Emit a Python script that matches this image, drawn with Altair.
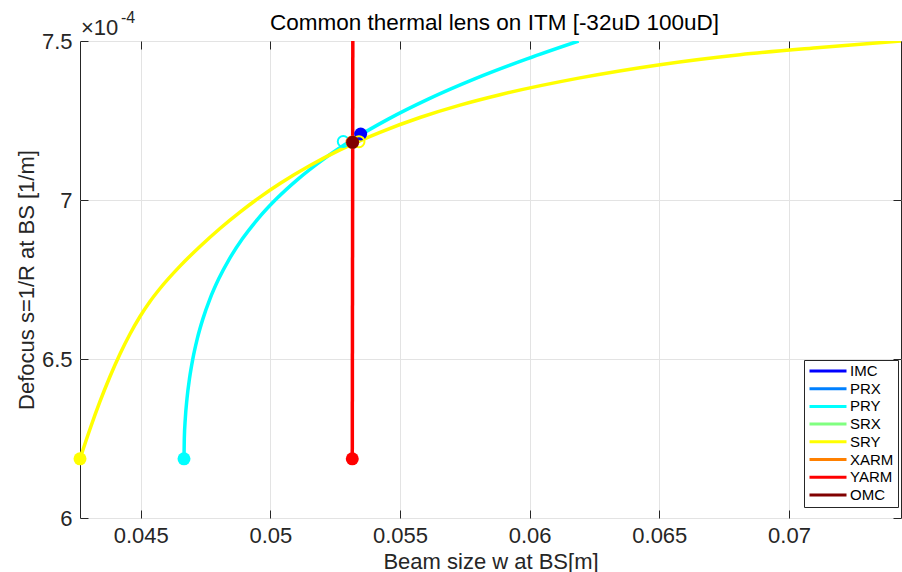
import altair as alt
import pandas as pd

FONT = "Liberation Sans"
INK = "#262626"

# Legend entries (MATLAB jet(8) colours)
series_names = ["IMC", "PRX", "PRY", "SRX", "SRY", "XARM", "YARM", "OMC"]
series_colors = ["#0000ff", "#0080ff", "#00ffff", "#80ff80",
                 "#ffff00", "#ff8000", "#ff0000", "#800000"]
palette = dict(zip(series_names, series_colors))

# Thermal-lens sweeps: beam size w at BS [m], defocus s at BS [1e-4 1/m]
pry_w = [0.046670, 0.046682, 0.046720, 0.046785, 0.046881, 0.047011, 0.047181,
         0.047399, 0.047672, 0.048010, 0.048422, 0.048922, 0.049522, 0.050236,
         0.051079, 0.052070, 0.053225, 0.054564, 0.056108, 0.057878, 0.059898,
         0.061888]
pry_s = [6.186, 6.2489, 6.3118, 6.3747, 6.4376, 6.5005, 6.5634,
         6.6262, 6.6891, 6.7520, 6.8149, 6.8778, 6.9407, 7.0036,
         7.0665, 7.1294, 7.1923, 7.2552, 7.3181, 7.3810, 7.4439,
         7.5000]

sry_w = [0.042660, 0.043046, 0.043431, 0.043817, 0.044202, 0.044588, 0.044974,
         0.045359, 0.045745, 0.046516, 0.047287, 0.048058, 0.048830, 0.049601,
         0.050372, 0.051529, 0.052686, 0.054228, 0.055770, 0.057313, 0.058855,
         0.061940, 0.065025, 0.068110, 0.071194, 0.074320]
sry_s = [6.186, 6.2799, 6.3664, 6.4450, 6.5157, 6.5786, 6.6336,
         6.6808, 6.7217, 6.7921, 6.8538, 6.9104, 6.9619, 7.0091,
         7.0519, 7.1085, 7.1575, 7.2129, 7.2594, 7.2984, 7.3311,
         7.3840, 7.4255, 7.4569, 7.4796, 7.5000]

yarm_w = [0.05316, 0.05318]
yarm_s = [6.186, 7.500]

# Start of each sweep (filled markers)
start_names = ["PRY", "SRY", "YARM"]
start_w = [0.04667, 0.04266, 0.05316]
start_s = [6.186, 6.186, 6.186]

# Nominal operating points
imc_w, imc_s = [0.053483], [7.2075]
omc_w, omc_s = [0.053174], [7.1815]
open_names = ["PRY", "SRY", "XARM"]
open_w = [0.052812, 0.053418, 0.053150]
open_s = [7.1840, 7.1833, 7.1820]

x_lo, x_hi = 0.04266, 0.07432
y_lo, y_hi = 6.0e-4, 7.5e-4
x_ticks = [0.045, 0.05, 0.055, 0.06, 0.065, 0.07]
y_ticks = [6.0e-4, 6.5e-4, 7.0e-4, 7.5e-4]
S_UNIT = 1e-4

title_text = "Common thermal lens on ITM [-32uD 100uD]"
x_title = "Beam size w at BS[m]"
y_title = "Defocus s=1/R at BS [1/m]"


def frame(names, ws, ss):
    return pd.DataFrame({
        "series": names,
        "w": ws,
        "s": [v * S_UNIT for v in ss],
        "k": list(range(len(ws))),
    })


lines_df = pd.concat([
    frame(["PRY"] * len(pry_w), pry_w, pry_s),
    frame(["SRY"] * len(sry_w), sry_w, sry_s),
    frame(["YARM"] * len(yarm_w), yarm_w, yarm_s),
], ignore_index=True)
start_df = frame(start_names, start_w, start_s)
imc_df = frame(["IMC"], imc_w, imc_s)
omc_df = frame(["OMC"], omc_w, omc_s)
open_df = frame(open_names, open_w, open_s)

x_scale = alt.Scale(domain=[x_lo, x_hi], nice=False, zero=False)
y_scale = alt.Scale(domain=[y_lo, y_hi], nice=False, zero=False)
col_scale = alt.Scale(domain=series_names, range=series_colors)

# marker colour scales only cover the series that carry markers
fill_names = ["IMC", "PRY", "SRY", "YARM", "OMC"]
fill_scale = alt.Scale(domain=fill_names, range=[palette[n] for n in fill_names])
stroke_scale = alt.Scale(domain=open_names, range=[palette[n] for n in open_names])

y_label_expr = "format(datum.value * 1e4, '~g')"


def tick_axis(orient, values):
    # inward-pointing tick marks only
    return alt.Axis(orient=orient, values=values, labels=False, domain=False,
                    grid=False, ticks=True, tickSize=8, offset=-8,
                    tickColor=INK, tickWidth=1, title=None)


main_x_axis = alt.Axis(
    orient="bottom", values=x_ticks, format=".3~f", ticks=False, domain=False,
    grid=True, gridColor="#e3e3e3", gridWidth=1,
    labelFont=FONT, labelFontSize=22, labelColor=INK, labelPadding=7,
    title=x_title, titleFont=FONT, titleFontSize=22, titleFontWeight="normal",
    titleColor=INK, titleY=50, titleBaseline="alphabetic",
)
main_y_axis = alt.Axis(
    orient="left", values=y_ticks, labelExpr=y_label_expr, ticks=False,
    domain=False, grid=True, gridColor="#e3e3e3", gridWidth=1,
    labelFont=FONT, labelFontSize=22, labelColor=INK, labelPadding=8,
    title=y_title, titleFont=FONT, titleFontSize=22, titleFontWeight="normal",
    titleColor=INK, titleX=-47, titleY=238.5, titleAngle=270,
    titleAlign="center", titleBaseline="alphabetic",
)

legend = alt.Legend(
    orient="none", legendX=724, legendY=319, title=None,
    symbolType="stroke", symbolSize=1369, symbolStrokeWidth=3,
    labelFont=FONT, labelFontSize=15, labelColor="black", labelOffset=2,
    clipHeight=14, rowPadding=2.7, padding=4,
    strokeColor=INK, fillColor="white",
)

line_layer = alt.Chart(lines_df).mark_line(
    strokeWidth=3.5, clip=True, interpolate="monotone"
).encode(
    x=alt.X("w:Q", scale=x_scale, axis=main_x_axis),
    y=alt.Y("s:Q", scale=y_scale, axis=main_y_axis),
    color=alt.Color("series:N", scale=col_scale, legend=legend),
    order="k:Q",
)

imc_layer = alt.Chart(imc_df).mark_point(
    filled=True, size=169, opacity=1, shape="circle"
).encode(
    x=alt.X("w:Q", scale=x_scale, axis=tick_axis("top", x_ticks)),
    y=alt.Y("s:Q", scale=y_scale, axis=tick_axis("right", y_ticks)),
    fill=alt.Fill("series:N", scale=fill_scale, legend=None),
)

start_layer = alt.Chart(start_df).mark_point(
    filled=True, size=169, opacity=1, shape="circle"
).encode(
    x=alt.X("w:Q", scale=x_scale, axis=tick_axis("bottom", x_ticks)),
    y=alt.Y("s:Q", scale=y_scale, axis=tick_axis("left", y_ticks)),
    fill=alt.Fill("series:N", scale=fill_scale, legend=None),
)

open_layer = alt.Chart(open_df).mark_point(
    filled=False, size=121, strokeWidth=2, opacity=1, shape="circle"
).encode(
    x=alt.X("w:Q", scale=x_scale, axis=None),
    y=alt.Y("s:Q", scale=y_scale, axis=None),
    stroke=alt.Stroke("series:N", scale=stroke_scale, legend=None),
)

omc_layer = alt.Chart(omc_df).mark_point(
    filled=True, size=169, opacity=1, shape="circle"
).encode(
    x=alt.X("w:Q", scale=x_scale, axis=None),
    y=alt.Y("s:Q", scale=y_scale, axis=None),
    fill=alt.Fill("series:N", scale=fill_scale, legend=None),
)

# Title and the axis exponent, anchored to the plot's top edge
title_df = pd.DataFrame({"w": [(x_lo + x_hi) / 2], "s": [y_hi], "t": [title_text]})
title_layer = alt.Chart(title_df).mark_text(
    font=FONT, fontSize=22.5, color="black", align="center",
    baseline="alphabetic", dy=-11, dx=4,
).encode(
    x=alt.X("w:Q", scale=x_scale, axis=None),
    y=alt.Y("s:Q", scale=y_scale, axis=None),
    text="t:N",
)

mult_df = pd.DataFrame({"w": [x_lo], "s": [y_hi], "t": ["\u00d710"]})
mult_layer = alt.Chart(mult_df).mark_text(
    font=FONT, fontSize=22, color=INK, align="left",
    baseline="alphabetic", dx=1, dy=-6,
).encode(
    x=alt.X("w:Q", scale=x_scale, axis=None),
    y=alt.Y("s:Q", scale=y_scale, axis=None),
    text="t:N",
)

exp_df = pd.DataFrame({"w": [x_lo], "s": [y_hi], "t": ["-4"]})
exp_layer = alt.Chart(exp_df).mark_text(
    font=FONT, fontSize=16, color=INK, align="left",
    baseline="alphabetic", dx=41, dy=-18,
).encode(
    x=alt.X("w:Q", scale=x_scale, axis=None),
    y=alt.Y("s:Q", scale=y_scale, axis=None),
    text="t:N",
)

chart = alt.layer(
    line_layer, imc_layer, start_layer, open_layer, omc_layer,
    title_layer, mult_layer, exp_layer,
).resolve_scale(
    x="shared", y="shared"
).resolve_axis(
    x="independent", y="independent"
).properties(
    width=821, height=477,
    padding={"left": 80, "top": 41, "right": 1, "bottom": 54},
    autosize=alt.AutoSizeParams(type="none"),
    background="white",
).configure(
    font=FONT
).configure_view(
    stroke=INK, strokeWidth=1
)

chart.save("out.html", embed_options={"renderer": "svg", "actions": False})
